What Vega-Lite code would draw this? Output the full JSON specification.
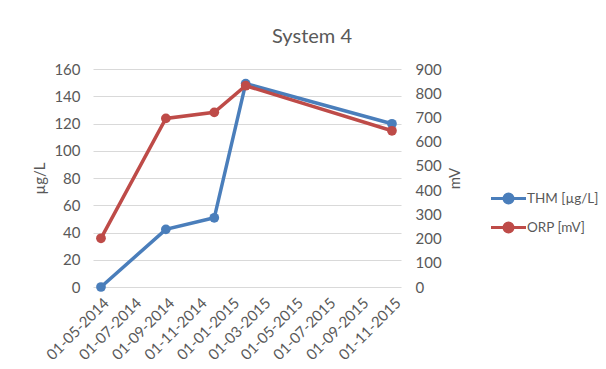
{
  "$schema": "https://vega.github.io/schema/vega-lite/v6.json",
  "width": 308,
  "height": 218,
  "autosize": {"type": "none"},
  "padding": {"left": 93, "top": 69, "right": 205, "bottom": 82},
  "background": "white",
  "config": {
    "font": "Lato",
    "view": {"stroke": null},
    "axis": {
      "labelFont": "Lato", "labelColor": "#595959", "labelFontSize": 15,
      "titleFont": "Lato", "titleColor": "#595959", "titleFontWeight": "normal", "titleFontSize": 15
    },
    "legend": {"labelFont": "Lato", "labelColor": "#595959", "labelFontSize": 13.5}
  },
  "title": {"text": "System 4", "fontSize": 20, "fontWeight": "normal", "color": "#595959", "font": "Lato", "anchor": "middle", "frame": "group", "dx": 65, "offset": 15},
  "data": {"values": [
    {"date": "2014-05-01", "THM": 0, "ORP": 201},
    {"date": "2014-08-31", "THM": 42.3, "ORP": 696},
    {"date": "2014-11-30", "THM": 50.8, "ORP": 721},
    {"date": "2015-01-28", "THM": 149.3, "ORP": 831},
    {"date": "2015-10-30", "THM": 119.8, "ORP": 645}
  ]},
  "encoding": {
    "x": {
      "field": "date", "type": "temporal",
      "scale": {"type": "utc", "domain": [{"year": 2014, "month": 4, "date": 16, "utc": true}, {"year": 2015, "month": 11, "date": 16, "utc": true}]},
      "axis": {
        "title": null, "domain": false, "ticks": false, "grid": false,
        "labelAngle": -45, "labelPadding": 8, "labelOverlap": false, "labelFlush": false,
        "format": "%d-%m-%Y",
        "values": [
          {"year": 2014, "month": 5, "date": 1, "utc": true},
          {"year": 2014, "month": 7, "date": 1, "utc": true},
          {"year": 2014, "month": 9, "date": 1, "utc": true},
          {"year": 2014, "month": 11, "date": 1, "utc": true},
          {"year": 2015, "month": 1, "date": 1, "utc": true},
          {"year": 2015, "month": 3, "date": 1, "utc": true},
          {"year": 2015, "month": 5, "date": 1, "utc": true},
          {"year": 2015, "month": 7, "date": 1, "utc": true},
          {"year": 2015, "month": 9, "date": 1, "utc": true},
          {"year": 2015, "month": 11, "date": 1, "utc": true}
        ]
      }
    }
  },
  "layer": [
    {
      "encoding": {
        "y": {
          "field": "THM", "type": "quantitative",
          "scale": {"domain": [0, 160], "nice": false},
          "axis": {
            "title": "µg/L", "values": [0, 20, 40, 60, 80, 100, 120, 140, 160],
            "grid": true, "gridColor": "#D9D9D9", "gridWidth": 1,
            "domain": false, "ticks": false, "labelPadding": 13, "titlePadding": 6
          }
        },
        "color": {
          "datum": "THM [µg/L]",
          "scale": {"domain": ["THM [µg/L]", "ORP [mV]"], "range": ["#4A7EBB", "#BE4B48"]},
          "legend": {
            "title": null, "orient": "none", "legendX": 404, "legendY": 118, "padding": 0,
            "symbolType": "M-1.75,0H1.75M-0.45,0A0.45,0.45 0 1,0 0.45,0A0.45,0.45 0 1,0 -0.45,0",
            "symbolSize": 400, "symbolStrokeWidth": 3, "labelOffset": 7, "rowPadding": 7,
            "encode": {"symbols": {"update": {"fill": {"scale": "color", "field": "value"}, "stroke": {"scale": "color", "field": "value"}, "opacity": {"value": 1}}}}
          }
        }
      },
      "layer": [
        {"mark": {"type": "line", "strokeWidth": 3.5}},
        {"mark": {"type": "point", "filled": true, "size": 95, "opacity": 1}}
      ]
    },
    {
      "encoding": {
        "y": {
          "field": "ORP", "type": "quantitative",
          "scale": {"domain": [0, 900], "nice": false},
          "axis": {
            "orient": "right", "title": "mV", "titleAngle": -90,
            "values": [0, 100, 200, 300, 400, 500, 600, 700, 800, 900],
            "grid": false, "domain": false, "ticks": false, "labelPadding": 14, "titlePadding": 21
          }
        },
        "color": {"datum": "ORP [mV]"}
      },
      "layer": [
        {"mark": {"type": "line", "strokeWidth": 3.5}},
        {"mark": {"type": "point", "filled": true, "size": 95, "opacity": 1}}
      ]
    }
  ],
  "resolve": {"scale": {"y": "independent"}}
}
